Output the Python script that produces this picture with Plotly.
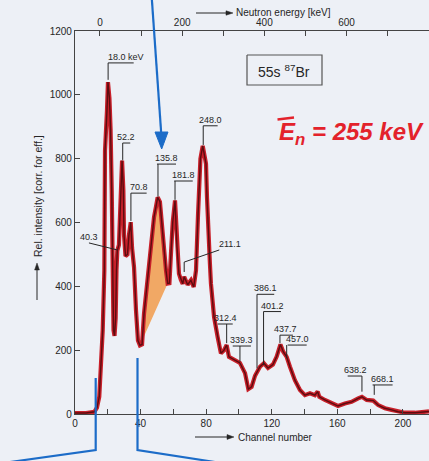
import plotly.graph_objects as go

# Delayed-neutron spectrum of 87Br: channel number vs relative intensity
channel = [0, 6.7, 11.8, 13.4, 14.8, 15.9, 16.9, 17.9, 18.3, 19.5, 20.1, 21.0, 21.7, 22.4,
           22.9, 23.5, 24.1, 24.8, 25.3, 25.8, 26.8, 27.9, 28.7, 29.5, 29.9, 30.8, 32.0,
           32.9, 34.0, 34.8, 36.0, 37.2, 38.4, 39.6, 40.9, 42.1, 43.9, 46.2, 48.2, 49.4,
           50.4, 51.8, 53.0, 54.3, 55.5, 56.5, 57.6, 58.5, 59.6, 61.0, 62.2, 63.4, 64.6,
           65.7, 66.6, 67.7, 68.7, 70.1, 70.7, 72.4, 73.8, 75.0, 76.5, 77.9, 79.0, 79.9,
           80.5, 81.1, 81.9, 82.3, 82.9, 84.8, 87.0, 89.0, 90.9, 92.5, 93.9, 97.0, 100.6,
           103.7, 105.7, 107.7, 109.8, 112.8, 115.2, 117.7, 120.7, 123.0, 125.3, 127.0,
           129.1, 131.1, 134.1, 137.2, 140.2, 143.3, 146.3, 148.0, 149.0, 152.4, 156.5,
           160.4, 164.6, 168.7, 172.7, 175.0, 177.9, 181.9, 184.9, 189.0, 193.1, 197.1,
           201.2, 207.3, 215.9]
intensity = [3, 3, 7, 20, 54, 159, 262, 450, 825, 950, 1040, 990, 893, 700,
             400, 262, 245, 300, 450, 512, 530, 700, 794, 700, 560, 495, 500,
             560, 601, 520, 460, 325, 230, 215, 218, 315, 409, 512, 617, 650,
             679, 665, 590, 500, 450, 409, 410, 500, 600, 669, 523, 440, 420,
             408, 430, 415, 405, 415, 419, 398, 450, 620, 800, 840, 810, 784,
             679, 575, 512, 470, 409, 304, 241, 190, 200, 216, 179, 169, 160,
             128, 78, 85, 120, 148, 159, 144, 155, 180, 218, 195,
             179, 148, 106, 75, 59, 65, 59, 70, 54, 44, 33,
             25, 33, 38, 49, 54, 44, 42, 28, 18, 13, 7,
             4, 4, 8]

# shaded component under the 135.8 keV group (channel window)
shade_from, shade_to = 39.6, 56.5

# peak labels: energy text, stem channel, stem top / tip, underline span, text centre
peak_text = ["18.0 keV", "52.2", "70.8", "135.8", "181.8", "248.0", "312.4", "339.3",
             "386.1", "401.2", "437.7", "457.0", "638.2", "668.1"]
stem_ch = [20.2, 29.1, 34.1, 50.6, 61.0, 78.2, 92.5, 100.6, 111.0, 115.0, 125.0, 129.1, 175.0, 182.5]
stem_top = [1100, 849, 692, 783, 730, 903, 282, 213, 375, 321, 247, 216, 119, 91]
stem_tip = [1047, 796, 605, 681, 671, 843, 222, 164, 143, 154, 222, 175, 70, 60]
bar_from = [20.2, 29.1, 34.1, 50.0, 60.5, 78.2, 87.0, 96.2, 111.0, 115.0, 125.0, 129.7, 166.3, 181.5]
bar_to = [35.8, 33.7, 43.7, 61.6, 71.8, 87.0, 96.2, 107.3, 121.5, 125.6, 132.9, 141.3, 175.0, 193.7]
text_ch = [31.3, 31.4, 39.0, 55.8, 66.2, 82.6, 92.0, 101.7, 116.3, 120.3, 128.6, 136.0, 170.8, 187.6]

# labels with slanted leaders
slant_text = ["40.3", "211.1"]
slant_text_ch = [8.7, 94.5]
slant_text_y = [536, 514]
slant_path_ch = [[8.5, 25.8], [88.0, 66.6, 66.6]]
slant_path_y = [[536, 514], [514, 476, 445]]

W, H = 429, 461
L, R, T, B = 75, 0, 31, 47
PW, PH = W - L - R, H - T - B

LABEL_FONT = "Liberation Sans Narrow, Liberation Sans, Arial, sans-serif"
INK = "#262626"
BLUE = "#1c6cc8"
RED = "#e3222b"


def P(x, y):
    """page pixel -> paper coordinates"""
    return (x - L) / PW, (H - B - y) / PH


fig = go.Figure()

# orange component fill
sx = [c for c in channel if shade_from <= c <= shade_to]
sy = [v for c, v in zip(channel, intensity) if shade_from <= c <= shade_to]
fig.add_trace(go.Scatter(x=sx + [sx[0]], y=sy + [sy[0]], fill="toself",
                         fillcolor="rgba(242,140,45,0.72)", line=dict(width=0),
                         mode="lines", hoverinfo="skip", showlegend=False))

# spectrum: red halo with dark core
fig.add_trace(go.Scatter(x=channel, y=intensity, mode="lines",
                         line=dict(color="#c8202a", width=4.2), showlegend=False))
fig.add_trace(go.Scatter(x=channel, y=intensity, mode="lines",
                         line=dict(color="#5c0c10", width=1.4), showlegend=False))

# dummy trace so the top energy axis is laid out
fig.add_trace(go.Scatter(x=[None], y=[None], xaxis="x2", showlegend=False))

shapes = []
annotations = []

for t, sc, top, tip, b0, b1, tc in zip(peak_text, stem_ch, stem_top, stem_tip,
                                        bar_from, bar_to, text_ch):
    shapes.append(dict(type="line", xref="x", yref="y", x0=b0, x1=b1, y0=top, y1=top,
                       line=dict(color=INK, width=1)))
    shapes.append(dict(type="line", xref="x", yref="y", x0=sc, x1=sc, y0=top, y1=tip,
                       line=dict(color=INK, width=1)))
    annotations.append(dict(x=tc, y=top, xref="x", yref="y", text=t, showarrow=False,
                            yanchor="bottom", xanchor="center", yshift=-1,
                            font=dict(family=LABEL_FONT, size=9, color=INK)))

for t, tc, ty, pc, py in zip(slant_text, slant_text_ch, slant_text_y, slant_path_ch, slant_path_y):
    d = "M " + " L ".join(f"{a},{b}" for a, b in zip(pc, py))
    shapes.append(dict(type="path", xref="x", yref="y", path=d,
                       line=dict(color=INK, width=1)))
    annotations.append(dict(x=tc, y=ty, xref="x", yref="y", text=t, showarrow=False,
                            yanchor="bottom", xanchor="center", yshift=-1,
                            font=dict(family=LABEL_FONT, size=9, color=INK)))


def seg(x0, y0, x1, y1, color=INK, width=1.0):
    a, b = P(x0, y0)
    c, d = P(x1, y1)
    shapes.append(dict(type="line", xref="paper", yref="paper", x0=a, y0=b, x1=c, y1=d,
                       line=dict(color=color, width=width)))


def poly(points, color, width=1.0, fill=None):
    pts = [P(x, y) for x, y in points]
    d = "M " + " L ".join(f"{a:.5f},{b:.5f}" for a, b in pts)
    if fill:
        d += " Z"
    shapes.append(dict(type="path", xref="paper", yref="paper", path=d,
                       line=dict(color=color, width=width),
                       fillcolor=fill if fill else "rgba(0,0,0,0)"))


def text(x, y, s, size, xanchor="left", angle=0, color=INK, family=LABEL_FONT):
    a, b = P(x, y)
    annotations.append(dict(x=a, y=b, xref="paper", yref="paper", text=s, showarrow=False,
                            xanchor=xanchor, yanchor="middle", textangle=angle,
                            font=dict(family=family, size=size, color=color)))


# axis captions with arrows
seg(196, 13, 227, 13)
poly([(226, 10.8), (233, 13), (226, 15.2)], INK, 0.5, INK)
text(234, 13, "Neutron energy [keV]", 10)

seg(195, 437, 228, 437)
poly([(227, 434.6), (234, 437), (227, 439.4)], INK, 0.5, INK)
text(236, 437, "Channel number", 10)

seg(37, 300, 37, 269)
poly([(34.6, 270), (37, 263), (39.4, 270)], INK, 0.5, INK)
text(38, 196, "Rel. intensity [corr. for eff.]", 10.5, xanchor="center", angle=-90)

# nuclide box
poly([(247, 55), (322, 55), (322, 85), (247, 85), (247, 55)], "#555555", 1.2)
text(284, 71, "55s <sup>87</sup>Br", 14, xanchor="center")

# handwritten mean energy
text(277, 133, "<b><i>E<sub>n</sub> = 255 keV</i></b>", 24, color=RED,
     family="Liberation Sans, Arial, sans-serif")
seg(277.5, 119.5, 294, 117.5, RED, 2.5)

# blue pen marks
seg(151.7, -3, 161.4, 136, BLUE, 2.2)
poly([(155, 132), (168, 132), (161.7, 149)], BLUE, 1, BLUE)
poly([(95.7, 378), (95.7, 450), (10, 462)], BLUE, 2.2)
poly([(137.5, 358), (137.5, 450), (215, 462)], BLUE, 2.2)

tickfont = dict(family=LABEL_FONT, size=10, color=INK)
fig.update_layout(
    width=W, height=H,
    margin=dict(l=L, r=R, t=T, b=B),
    paper_bgcolor="#edf0f6", plot_bgcolor="#edf0f6",
    showlegend=False,
    shapes=shapes, annotations=annotations,
    xaxis=dict(range=[0, 215.9], showgrid=False, zeroline=False,
               showline=True, linecolor="#444", linewidth=1.2,
               ticks="inside", ticklen=5, tickcolor="#444",
               tickmode="array", tickvals=[0, 40, 80, 120, 160, 200],
               minor=dict(tickmode="array", tickvals=[20, 60, 100, 140, 180],
                          ticks="inside", ticklen=5, tickcolor="#444"),
               tickfont=tickfont),
    xaxis2=dict(range=[-60.8, 800.5], overlaying="x", side="top", anchor="y",
                showgrid=False, zeroline=False,
                showline=True, linecolor="#444", linewidth=1.2,
                ticks="inside", ticklen=5, tickcolor="#444",
                tickmode="array", tickvals=[0, 200, 400, 600, 800],
                minor=dict(tickmode="array", tickvals=[100, 300, 500, 700],
                           ticks="inside", ticklen=5, tickcolor="#444"),
                tickfont=tickfont),
    yaxis=dict(range=[0, 1200], showgrid=False, zeroline=False,
               showline=True, linecolor="#444", linewidth=1.2,
               ticks="inside", ticklen=5, tickcolor="#444",
               tickmode="array", tickvals=[0, 200, 400, 600, 800, 1000, 1200],
               tickfont=tickfont),
)

fig.write_html("out.html")
